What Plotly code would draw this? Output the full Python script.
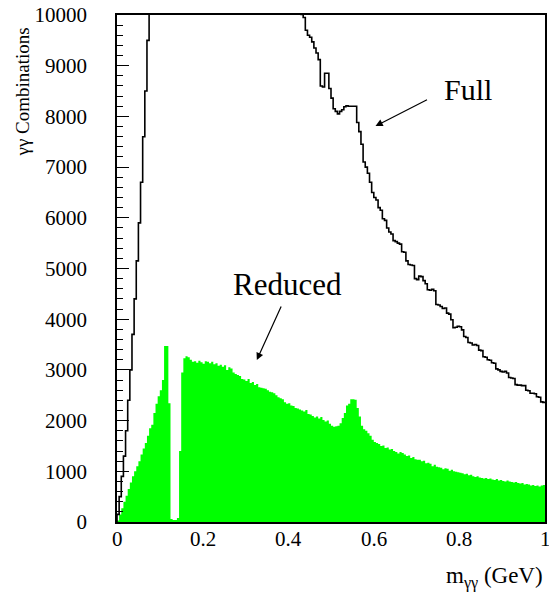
import plotly.graph_objects as go

# ---- data (200 bins of width 0.005 on 0..1) ----
bin_width = 0.005
bin_edges = [round(i * bin_width, 4) for i in range(201)]

reduced_counts = [
    30, 150, 270, 400, 520, 650, 780, 900, 1000, 1100,
    1200, 1330, 1450, 1560, 1700, 1850, 1920, 2150, 2330, 2480,
    2600, 2800, 3470, 3470, 2340, 60, 40, 40, 80, 1400,
    2950, 3230, 3270, 3250, 3200, 3160, 3170, 3140, 3180, 3150,
    3120, 3170, 3160, 3130, 3160, 3110, 3130, 3080, 3100, 3060,
    3090, 3000, 3050, 3030, 2950, 2920, 2900, 2880, 2820, 2810,
    2780, 2820, 2740, 2760, 2700, 2720, 2660, 2650, 2640, 2630,
    2600, 2570, 2560, 2540, 2500, 2460, 2440, 2420, 2360, 2330,
    2340, 2300, 2290, 2250, 2240, 2220, 2200, 2180, 2210, 2130,
    2120, 2090, 2060, 2080, 2040, 2070, 2010, 1980, 2000, 1940,
    1900, 1880, 1890, 1900, 1950, 2050, 2150, 2300, 2330, 2420,
    2420, 2410, 2250, 2080, 1900, 1830, 1800, 1750, 1700, 1620,
    1580, 1560, 1540, 1500, 1510, 1460, 1470, 1430, 1440, 1400,
    1380, 1350, 1380, 1360, 1330, 1300, 1310, 1260, 1280, 1240,
    1230, 1230, 1200, 1210, 1160, 1170, 1150, 1100, 1130, 1090,
    1080, 1070, 1040, 1060, 1050, 1010, 1030, 1000, 990, 980,
    970, 960, 940, 950, 920, 930, 900, 890, 900, 880,
    870, 860, 870, 850, 860, 840, 830, 850, 820, 830,
    810, 800, 820, 800, 790, 780, 790, 770, 760, 770,
    740, 750, 740, 720, 730, 710, 720, 700, 720, 730,
]

full_counts = [
    150, 500, 900, 1300, 1800, 2400, 3000, 3700, 4400, 5150,
    5900, 6700, 7600, 8500, 9500, 10600, 11800, 13000, 14200, 15300,
    16400, 17500, 19000, 20500, 21000, 20000, 19000, 18500, 18500, 19000,
    19500, 19800, 19900, 19800, 19600, 19400, 19100, 18800, 18500, 18200,
    17900, 17600, 17300, 17000, 16700, 16400, 16100, 15800, 15500, 15200,
    14900, 14600, 14300, 14000, 13800, 13600, 13400, 13200, 13000, 12800,
    12600, 12400, 12200, 12000, 11850, 11700, 11550, 11400, 11250, 11100,
    10980, 10860, 10750, 10650, 10550, 10460, 10380, 10310, 10250, 10200,
    10160, 10120, 10090, 10060, 10040, 10020, 10010, 9950, 9700, 9600,
    9560, 9470, 9350, 9250, 9120, 8600, 8580, 8850, 8850, 8550,
    8360, 8150, 8100, 8050, 8100, 8130, 8190, 8210, 8200, 8200,
    8200, 8200, 7880, 7700, 7450, 7100, 7000, 6880, 6700, 6500,
    6400, 6350, 6200, 6150, 5980, 5950, 5800, 5720, 5680, 5550,
    5530, 5500, 5480, 5330, 5320, 5150, 5080, 5070, 5060, 4800,
    4780, 4850, 4840, 4760, 4700, 4580, 4570, 4590, 4560, 4290,
    4280, 4250, 4210, 4220, 4120, 4100, 3990, 3830, 3840, 3860,
    3850, 3790, 3660, 3640, 3540, 3530, 3490, 3500, 3480, 3390,
    3380, 3260, 3250, 3200, 3190, 3140, 3130, 3020, 3000, 2970,
    2960, 2970, 2940, 2850, 2840, 2830, 2710, 2700, 2700, 2690,
    2690, 2600, 2590, 2540, 2540, 2530, 2470, 2460, 2370, 2360,
]

x_ticks = [0, 0.2, 0.4, 0.6, 0.8, 1.0]
x_tick_labels = ["0", "0.2", "0.4", "0.6", "0.8", "1"]
y_ticks = list(range(0, 10001, 1000))
y_tick_labels = [str(v) for v in y_ticks]

assert len(reduced_counts) == 200 and len(full_counts) == 200

FONT = "Liberation Serif"

fig = go.Figure()

# Reduced: filled green histogram
fig.add_trace(go.Scatter(
    x=[0] + bin_edges,
    y=[0] + reduced_counts + [reduced_counts[-1]],
    mode="lines",
    line=dict(width=0, shape="hv", color="#00ff00"),
    fill="tozeroy",
    fillcolor="#00ff00",
    hoverinfo="skip",
    showlegend=False,
))

# Full: black step outline
fig.add_trace(go.Scatter(
    x=[0] + bin_edges,
    y=[0] + full_counts + [full_counts[-1]],
    mode="lines",
    line=dict(width=1.6, shape="hv", color="black"),
    hoverinfo="skip",
    showlegend=False,
))

fig.update_layout(
    width=549,
    height=597,
    margin=dict(l=117, r=2, t=15, b=75),
    paper_bgcolor="white",
    plot_bgcolor="white",
    font=dict(family=FONT, color="black", size=20),
    showlegend=False,
    xaxis=dict(
        range=[0, 1],
        tickvals=x_ticks,
        ticktext=x_tick_labels,
        ticks="",
        showticklabels=False,
        showgrid=False,
        zeroline=False,
        showline=True,
        linecolor="black",
        linewidth=1.5,
        mirror=True,
    ),
    yaxis=dict(
        range=[0, 10000],
        tickvals=y_ticks,
        ticktext=y_tick_labels,
        ticks="inside",
        ticklen=12,
        tickwidth=1,
        tickcolor="black",
        minor=dict(ticks="inside", ticklen=6, dtick=200, tickcolor="black", tickwidth=1, showgrid=False),
        showgrid=False,
        zeroline=False,
        showline=True,
        linecolor="black",
        linewidth=1.5,
        mirror=True,
        tickfont=dict(family=FONT, size=21),
        ticklabelstandoff=24,
    ),
)

# x tick labels placed on the x scale, just below the axis
for tv, tl in zip(x_ticks, x_tick_labels):
    fig.add_annotation(
        text=tl, xref="x", yref="paper", x=tv, y=0,
        xanchor="center", yanchor="top", yshift=-3, showarrow=False,
        font=dict(family=FONT, size=21),
    )

# Axis titles
fig.add_annotation(
    text="γγ Combinations", textangle=-90,
    xref="paper", yref="paper", x=-0.221, y=0.848,
    xanchor="center", yanchor="middle", showarrow=False,
    font=dict(family=FONT, size=19),
)
fig.add_annotation(
    text="m<sub>γγ</sub> (GeV)",
    xref="paper", yref="paper", x=1.0, y=-0.1085,
    xanchor="right", yanchor="middle", showarrow=False,
    font=dict(family=FONT, size=23),
)

# Labels
fig.add_annotation(
    text="Full", xref="paper", yref="paper", x=0.821, y=0.854,
    xanchor="center", yanchor="middle", showarrow=False,
    font=dict(family=FONT, size=30),
)
fig.add_annotation(
    text="Reduced", xref="paper", yref="paper", x=0.398, y=0.469,
    xanchor="center", yanchor="middle", showarrow=False,
    font=dict(family=FONT, size=31),
)

# Arrows
fig.add_annotation(
    text="", xref="paper", yref="paper", x=0.604, y=0.781,
    ax=53, ay=-27, showarrow=True, arrowhead=2, arrowsize=1.2,
    arrowwidth=1.2, arrowcolor="black",
)
fig.add_annotation(
    text="", xref="paper", yref="paper", x=0.3267, y=0.3195,
    ax=25, ay=-55, showarrow=True, arrowhead=2, arrowsize=1.2,
    arrowwidth=1.2, arrowcolor="black",
)

fig.write_html("out.html")
